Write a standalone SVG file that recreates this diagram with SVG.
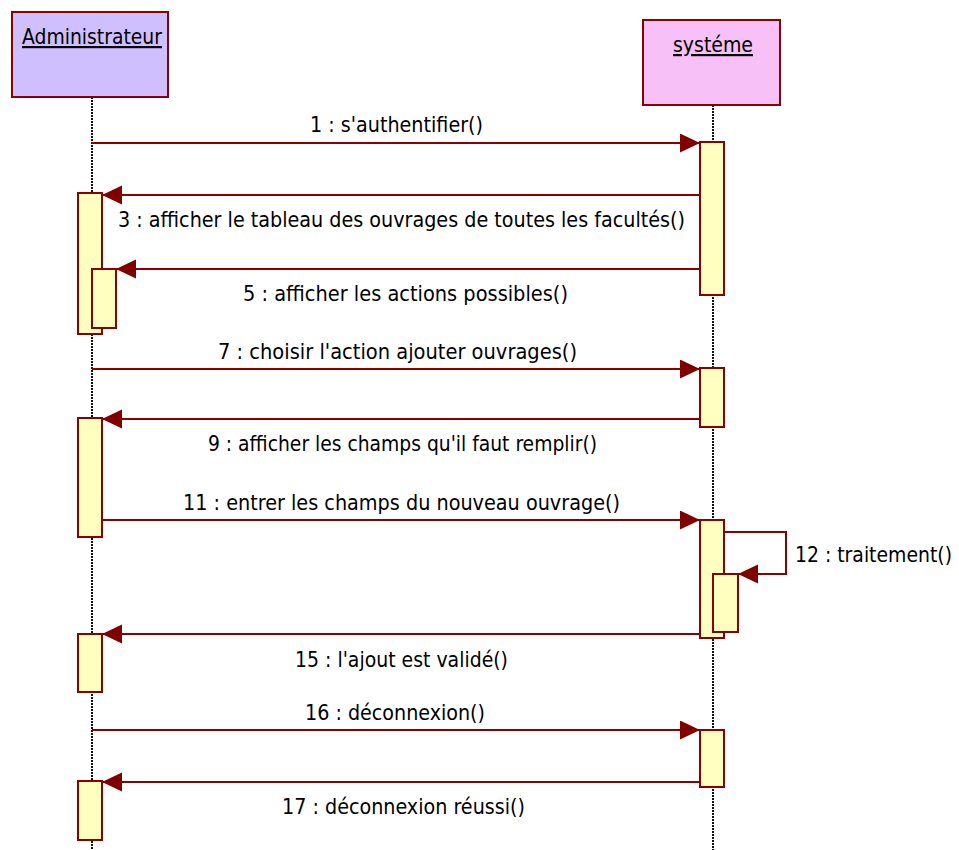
<svg xmlns="http://www.w3.org/2000/svg" width="959" height="850" viewBox="0 0 959 850">
  <defs>
    <marker id="arrow" markerUnits="userSpaceOnUse" markerWidth="21" markerHeight="20" refX="20" refY="9.5" orient="auto">
      <path d="M0,0 L20,9.5 L0,19 Z" fill="#800000"/>
    </marker>
    <style>
      .actor { stroke: #8b0000; stroke-width: 2; }
      .lifeline { stroke: #111; stroke-width: 2; stroke-dasharray: 2 1; fill: none; }
      .act { fill: #ffffc0; stroke: #8b0000; stroke-width: 2; }
      .msg { stroke: #8b0000; stroke-width: 2; fill: none; marker-end: url(#arrow); }
      .head { font-family: "DejaVu Sans Condensed", "Liberation Sans Narrow", "Liberation Sans", sans-serif; font-size: 22px; fill: #000; text-decoration: underline; }
      .lbl { font-family: "DejaVu Sans Condensed", "Liberation Sans Narrow", "Liberation Sans", sans-serif; font-size: 21px; fill: #000; }
    </style>
  </defs>

  <!-- lifelines -->
  <g id="lifelines">
    <line class="lifeline" x1="92" y1="97" x2="92" y2="850"/>
    <line class="lifeline" x1="713" y1="105" x2="713" y2="850"/>
  </g>

  <!-- actor heads -->
  <g id="administrateur">
    <rect class="actor" x="12" y="12" width="156" height="85" fill="#cfbfff"/>
    <text class="head" x="22" y="44" textLength="140" lengthAdjust="spacingAndGlyphs">Administrateur</text>
  </g>
  <g id="systeme">
    <rect class="actor" x="643" y="20" width="137" height="85" fill="#f7c0f7"/>
    <text class="head" x="673" y="52" textLength="80" lengthAdjust="spacingAndGlyphs">systéme</text>
  </g>

  <!-- activation bars -->
  <g id="activations-admin">
    <rect class="act" x="78" y="193" width="24" height="141"/>
    <rect class="act" x="92" y="269" width="24" height="59"/>
    <rect class="act" x="78" y="418" width="24" height="119"/>
    <rect class="act" x="78" y="634" width="24" height="58"/>
    <rect class="act" x="78" y="781" width="24" height="59"/>
  </g>
  <g id="activations-systeme">
    <rect class="act" x="700" y="142" width="24" height="153"/>
    <rect class="act" x="700" y="368" width="24" height="59"/>
    <rect class="act" x="700" y="520" width="24" height="118"/>
    <rect class="act" x="713" y="574" width="25" height="58"/>
    <rect class="act" x="700" y="730" width="24" height="57"/>
  </g>

  <!-- messages -->
  <g id="connectors">
    <line class="msg" x1="92" y1="143" x2="700" y2="143"/>
    <line class="msg" x1="700" y1="195" x2="102" y2="195"/>
    <line class="msg" x1="700" y1="269" x2="116" y2="269"/>
    <line class="msg" x1="92" y1="369" x2="700" y2="369"/>
    <line class="msg" x1="700" y1="419" x2="102" y2="419"/>
    <line class="msg" x1="102" y1="520" x2="700" y2="520"/>
    <path class="msg" d="M724,532 H786 V574 H738"/>
    <line class="msg" x1="700" y1="634" x2="102" y2="634"/>
    <line class="msg" x1="92" y1="730" x2="700" y2="730"/>
    <line class="msg" x1="700" y1="782" x2="102" y2="782"/>
  </g>

  <!-- message labels -->
  <g id="labels">
    <text class="lbl" x="310" y="132" textLength="173" lengthAdjust="spacingAndGlyphs">1 : s'authentifier()</text>
    <text class="lbl" x="118" y="227" textLength="567" lengthAdjust="spacingAndGlyphs">3 : afficher le tableau des ouvrages de toutes les facultés()</text>
    <text class="lbl" x="243" y="301" textLength="325" lengthAdjust="spacingAndGlyphs">5 : afficher les actions possibles()</text>
    <text class="lbl" x="218" y="359" textLength="359" lengthAdjust="spacingAndGlyphs">7 : choisir l'action ajouter ouvrages()</text>
    <text class="lbl" x="208" y="451" textLength="389" lengthAdjust="spacingAndGlyphs">9 : afficher les champs qu'il faut remplir()</text>
    <text class="lbl" x="183" y="510" textLength="437" lengthAdjust="spacingAndGlyphs">11 : entrer les champs du nouveau ouvrage()</text>
    <text class="lbl" x="795" y="562" textLength="157" lengthAdjust="spacingAndGlyphs">12 : traitement()</text>
    <text class="lbl" x="295" y="667" textLength="213" lengthAdjust="spacingAndGlyphs">15 : l'ajout est validé()</text>
    <text class="lbl" x="305" y="720" textLength="180" lengthAdjust="spacingAndGlyphs">16 : déconnexion()</text>
    <text class="lbl" x="282" y="814" textLength="243" lengthAdjust="spacingAndGlyphs">17 : déconnexion réussi()</text>
  </g>
</svg>
